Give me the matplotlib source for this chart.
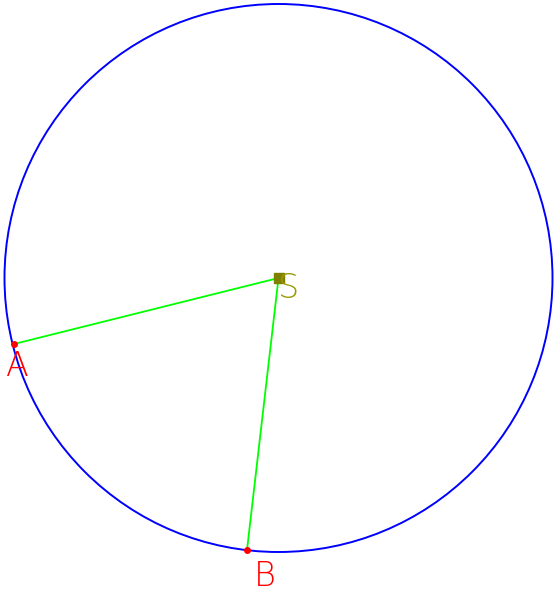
import matplotlib.pyplot as plt
from matplotlib.patches import Circle

# 点的坐标（画面像素坐标，y 向下）
names = ['A', 'B', 'S']
px = [14, 247, 278.5]
py = [344, 550, 278]
radius = 274  # 以 S 为圆心的圆

fig = plt.figure(figsize=(5.54, 5.93), dpi=100)
ax = fig.add_axes([0, 0, 1, 1])
ax.set_xlim(0, 554)
ax.set_ylim(593, 0)
ax.axis('off')

# 圆
ax.add_patch(Circle((px[2], py[2]), radius, fill=False, edgecolor='#0000ff', lw=1.4))

# S 到 A、B 的线段
for i in (0, 1):
    ax.plot([px[2], px[i]], [py[2], py[i]], color='#00ff00', lw=1.3)

# 点
ax.plot(px[:2], py[:2], 'o', color='#ff0000', ms=4)
ax.plot(px[2], py[2], 's', color='#7f7f00', ms=7)

# 标签
ax.text(px[0] + 3, py[0] + 6, names[0], color='#ff0000', fontsize=24,
        ha='center', va='top', fontweight='light')
ax.text(px[1] + 18, py[1] + 10, names[1], color='#ff0000', fontsize=24,
        ha='center', va='top', fontweight='light')
ax.text(px[2] + 10, py[2] + 10, names[2], color='#999900', fontsize=24,
        ha='center', va='center', fontweight='light')

fig.savefig('out.png', dpi=100)
